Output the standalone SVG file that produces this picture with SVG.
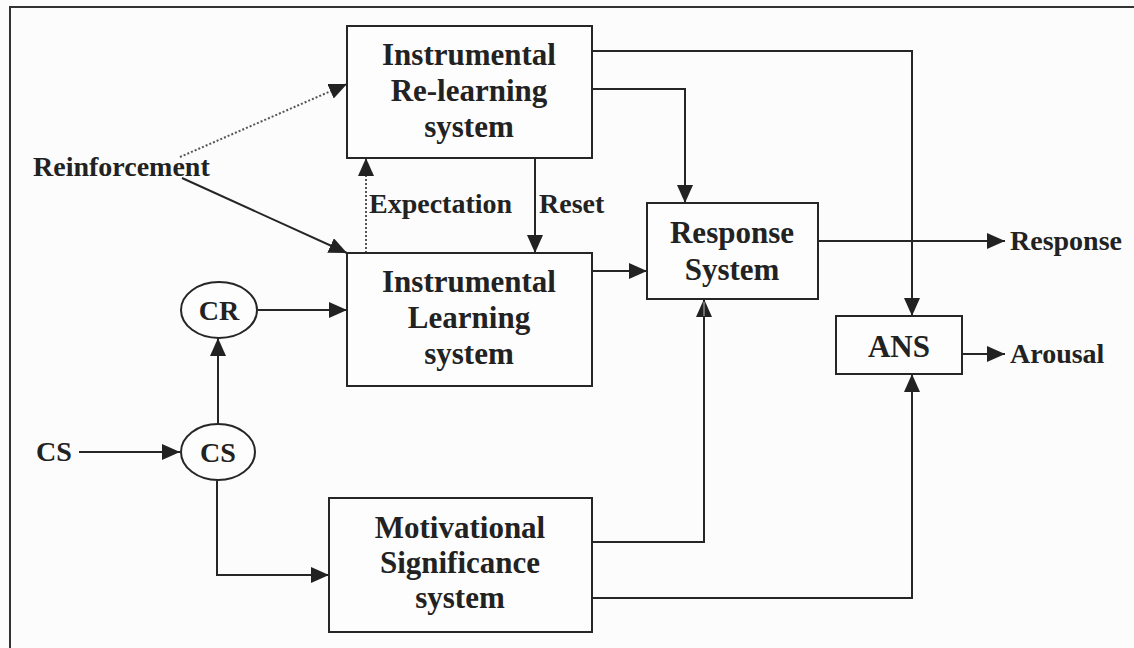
<svg xmlns="http://www.w3.org/2000/svg" width="1134" height="648" viewBox="0 0 1134 648">
  <style>
    .box { fill: #fdfdfd; stroke: #262626; stroke-width: 2; }
    .lbl { font-family: "Liberation Serif", "Times New Roman", serif; font-weight: bold; fill: #222; }
    .big { font-size: 31px; text-anchor: middle; }
    .small { font-size: 28px; }
    .wire { fill: none; stroke: #262626; stroke-width: 2; marker-end: url(#head); }
    .dots { fill: none; stroke: #555; stroke-width: 2; stroke-dasharray: 2 2; marker-end: url(#head); }
  </style>
  <defs>
    <marker id="head" markerUnits="userSpaceOnUse" markerWidth="20" markerHeight="18" refX="18" refY="8" orient="auto">
      <path d="M0,0 L18,8 L0,16 Z" fill="#222"/>
    </marker>
  </defs>

  <rect width="1134" height="648" fill="#fcfcfc"/>
  <!-- page frame -->
  <path d="M10,648 L10,7 L1134,7" fill="none" stroke="#333" stroke-width="2"/>

  <g id="connectors">
    <!-- reinforcement inputs -->
    <path class="dots" d="M180,157 L347,84"/>
    <path class="wire" d="M182,178 L347,253"/>
    <!-- expectation / reset -->
    <path class="dots" d="M366,253 L366,158"/>
    <path class="wire" d="M535,158 L535,253"/>
    <!-- re-learning outputs -->
    <path class="wire" d="M592,51 L912,51 L912,316"/>
    <path class="wire" d="M592,89 L685,89 L685,203"/>
    <!-- learning to response -->
    <path class="wire" d="M592,271 L647,271"/>
    <!-- response output -->
    <path class="wire" d="M818,241 L1005,241"/>
    <!-- CR to learning -->
    <path class="wire" d="M258,310 L347,310"/>
    <!-- CS paths -->
    <path class="wire" d="M218,424 L218,338"/>
    <path class="wire" d="M79,452 L180,452"/>
    <path class="wire" d="M217,481 L217,575 L329,575"/>
    <!-- motivational outputs -->
    <path class="wire" d="M592,542 L704,542 L704,299"/>
    <path d="M704,302 L704,316" stroke="#bbb" stroke-width="1"/>
    <path class="wire" d="M592,598 L912,598 L912,374"/>
    <!-- arousal -->
    <path class="wire" d="M962,354 L1005,354"/>
  </g>

  <g id="relearning">
    <rect class="box" x="347" y="26" width="245" height="132"/>
    <text class="lbl big" x="469" y="65">Instrumental</text>
    <text class="lbl big" x="469" y="101">Re-learning</text>
    <text class="lbl big" x="469" y="137">system</text>
  </g>

  <g id="learning">
    <rect class="box" x="347" y="253" width="245" height="133"/>
    <text class="lbl big" x="469" y="292">Instrumental</text>
    <text class="lbl big" x="469" y="328">Learning</text>
    <text class="lbl big" x="469" y="364">system</text>
  </g>

  <g id="response">
    <rect class="box" x="647" y="203" width="171" height="96"/>
    <text class="lbl big" x="732" y="243">Response</text>
    <text class="lbl big" x="732" y="280">System</text>
  </g>

  <g id="ans">
    <rect class="box" x="836" y="316" width="126" height="58"/>
    <text class="lbl big" x="899" y="357">ANS</text>
  </g>

  <g id="motivational">
    <rect class="box" x="329" y="498" width="263" height="134"/>
    <text class="lbl big" x="460" y="538">Motivational</text>
    <text class="lbl big" x="460" y="573">Significance</text>
    <text class="lbl big" x="460" y="608">system</text>
  </g>

  <g id="cr">
    <ellipse class="box" cx="219" cy="310" rx="38" ry="28"/>
    <text class="lbl big" x="219" y="320" style="font-size:28px">CR</text>
  </g>

  <g id="cs">
    <ellipse class="box" cx="218" cy="452" rx="37" ry="28"/>
    <text class="lbl big" x="218" y="462" style="font-size:28px">CS</text>
  </g>

  <g id="labels">
    <text class="lbl small" x="33" y="176">Reinforcement</text>
    <text class="lbl small" x="369" y="213">Expectation</text>
    <text class="lbl small" x="539" y="213">Reset</text>
    <text class="lbl small" x="36" y="461">CS</text>
    <text class="lbl small" x="1010" y="250">Response</text>
    <text class="lbl small" x="1010" y="363">Arousal</text>
  </g>
</svg>
